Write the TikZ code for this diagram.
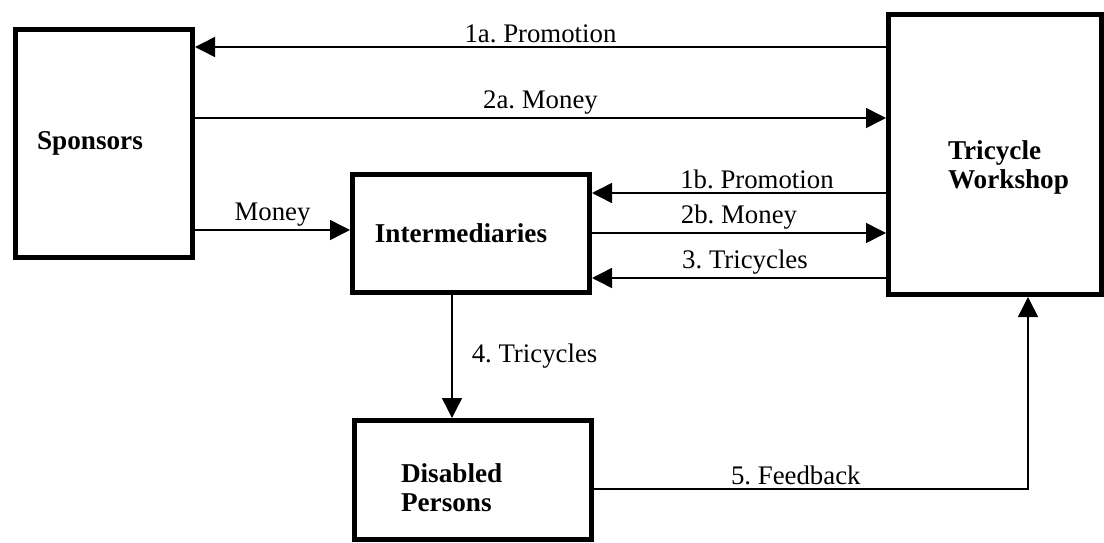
\documentclass[tikz,border=0pt]{standalone}
\usepackage{fontspec}
\setmainfont{Liberation Serif}
\usetikzlibrary{arrows.meta}
\frenchspacing

\begin{document}
\begin{tikzpicture}[
    x=0.5pt, y=0.5pt,
    box/.style={rectangle, draw, line width=2.5pt, inner sep=0pt, font=\fontsize{13.6}{14.5}\selectfont\bfseries},
    arr/.style={-{Triangle[length=10pt,width=10pt]}, line width=0.75pt},
    lbl/.style={font=\fontsize{13.4}{15}\selectfont, inner sep=1.5pt}
]
\useasboundingbox (0,0) rectangle (1104,542);

\node[box, minimum width=88.5pt, minimum height=114pt] (sponsors) at (104,398.5) {Sponsors\kern14pt};
\node[box, minimum width=106.5pt, minimum height=140pt] (workshop) at (995,387.5) {\kern13pt\raisebox{-10pt}[0pt][0pt]{\parbox{60pt}{Tricycle\\Workshop}}};
\node[box, minimum width=118.5pt, minimum height=59pt] (inter) at (471,308.5) {Intermediaries\kern10pt};
\node[box, minimum width=118.5pt, minimum height=59.5pt] (disabled) at (473,62) {\raisebox{-7.5pt}[0pt][0pt]{\parbox{52pt}{Disabled\\Persons}}\kern20pt};

\coordinate (corner) at (1028,53);

\draw[arr] (workshop.west |- 0,495) -- node[lbl, above] {1a. Promotion} (sponsors.east |- 0,495);
\draw[arr] (sponsors.east |- 0,424) -- node[lbl, above] {2a. Money} (workshop.west |- 0,424);
\draw[arr] (sponsors.east |- 0,312) -- node[lbl, above] {Money} (inter.west |- 0,312);
\draw[arr] (workshop.west |- 0,349) -- node[lbl, above, xshift=9pt] {1b. Promotion} (inter.east |- 0,349);
\draw[arr] (inter.east |- 0,309) -- node[lbl, above] {2b. Money} (workshop.west |- 0,309);
\draw[arr] (workshop.west |- 0,264) -- node[lbl, above, xshift=3pt] {3. Tricycles} (inter.east |- 0,264);
\draw[arr] (inter.south -| 452,0) -- node[lbl, right, xshift=8pt] {4. Tricycles} (disabled.north -| 452,0);
\draw[arr] (disabled.east |- corner) -- node[lbl, above, pos=0.465] {5. Feedback} (corner) -- (workshop.south -| corner);

\end{tikzpicture}
\end{document}
